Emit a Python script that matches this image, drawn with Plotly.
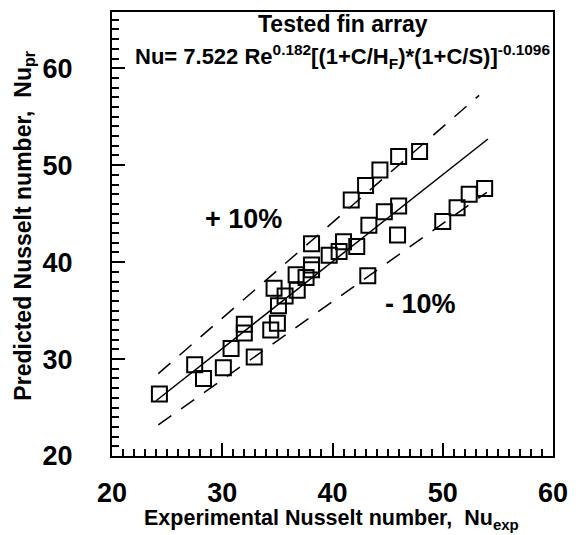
import plotly.graph_objects as go

# Data
nu_exp = [24.3, 27.5, 28.3, 30.1, 30.8, 32.0, 32.0, 32.9, 34.4, 35.0, 35.1, 35.7,
          34.7, 36.8, 36.7, 37.6, 38.1, 38.1, 38.1, 39.7, 40.6, 41.0, 42.2, 43.3,
          41.7, 43.0, 44.3, 43.2, 44.7, 46.0, 45.9, 46.0, 47.9, 50.0, 51.3, 52.4, 53.8]
nu_pr = [26.4, 29.4, 28.0, 29.1, 31.1, 32.7, 33.6, 30.2, 33.0, 33.7, 35.5, 36.5,
         37.3, 37.1, 38.7, 38.4, 39.7, 41.9, 39.2, 40.7, 41.1, 42.1, 41.6, 43.8,
         46.4, 47.9, 49.5, 38.6, 45.2, 45.8, 42.8, 50.9, 51.4, 44.2, 45.6, 47.0, 47.6]

fit_x = [24.0, 54.1]
fit_y = [25.7, 52.7]
upper_x = [24.2, 53.3]
upper_y = [28.5, 57.2]
lower_x = [24.2, 54.0]
lower_y = [23.2, 47.2]

x_ticks = [20, 30, 40, 50, 60]
y_ticks = [20, 30, 40, 50, 60]

FONT = "Liberation Sans, Arial, sans-serif"

fig = go.Figure()
fig.add_trace(go.Scatter(x=fit_x, y=fit_y, mode="lines",
                         line=dict(color="black", width=1.5), showlegend=False))
fig.add_trace(go.Scatter(x=upper_x, y=upper_y, mode="lines",
                         line=dict(color="black", width=1.5, dash="16px,12px"), showlegend=False))
fig.add_trace(go.Scatter(x=lower_x, y=lower_y, mode="lines",
                         line=dict(color="black", width=1.5, dash="16px,12px"), showlegend=False))
fig.add_trace(go.Scatter(x=nu_exp, y=nu_pr, mode="markers",
                         marker=dict(symbol="square-open", size=15, color="black",
                                     line=dict(width=2, color="black")),
                         showlegend=False))

axis_common = dict(showgrid=False, zeroline=False, showline=True, mirror=True,
                   linecolor="black", linewidth=2, ticks="inside", ticklen=13,
                   tickwidth=1.5, tickcolor="black",
                   tickfont=dict(family=FONT, size=27, color="black", weight="bold"),
                   minor=dict(ticks="inside", ticklen=7, tickwidth=1.5, dtick=1,
                              tickcolor="black", showgrid=False))

fig.update_xaxes(range=[20, 60], tickvals=x_ticks, ticktext=[str(v) for v in x_ticks],
                 ticklabelstandoff=12, **axis_common)
fig.update_yaxes(range=[20, 65.8], tickvals=y_ticks, ticktext=[str(v) for v in y_ticks],
                 ticklabelstandoff=32, **axis_common)

fig.update_layout(
    width=578, height=535,
    margin=dict(l=112, r=17, t=10, b=79),
    paper_bgcolor="white", plot_bgcolor="white",
)

def px_to_paper(px, py):
    return (px - 112) / (578 - 112 - 17), 1 - (py - 10) / (535 - 10 - 79)

ann = []
for txt, px, py, size in [
    ("<b>Tested fin array</b>", 347, 22, 23),
    ("<b>Nu= 7.522 Re<sup>0.182</sup>[(1+C/H<sub>F</sub>)*(1+C/S)]<sup>-0.1096</sup></b>", 347, 55, 22),
]:
    xp, yp = px_to_paper(px, py)
    ann.append(dict(text=txt, x=xp, y=yp, xref="paper", yref="paper",
                    showarrow=False, xanchor="center", yanchor="middle",
                    font=dict(family=FONT, size=size, color="black")))
for txt, px, py in [("<b>+ 10%</b>", 246, 218), ("<b>- 10%</b>", 426, 303)]:
    xp, yp = px_to_paper(px, py)
    ann.append(dict(text=txt, x=xp, y=yp, xref="paper", yref="paper", showarrow=False,
                    xanchor="center", yanchor="middle",
                    font=dict(family=FONT, size=27, color="black")))
xp, yp = px_to_paper(335, 520)
ann.append(dict(text="<b>Experimental Nusselt number,  Nu<sub>exp</sub></b>", x=xp, y=yp,
                xref="paper", yref="paper", showarrow=False, xanchor="center", yanchor="middle",
                font=dict(family=FONT, size=21.5, color="black")))
xp, yp = px_to_paper(22, 225)
ann.append(dict(text="<b>Predicted Nusselt number,  Nu<sub>pr</sub></b>", x=xp, y=yp,
                xref="paper", yref="paper", showarrow=False, xanchor="center", yanchor="middle",
                textangle=-90, font=dict(family=FONT, size=23, color="black")))
fig.update_layout(annotations=ann)

fig.write_html("out.html")
